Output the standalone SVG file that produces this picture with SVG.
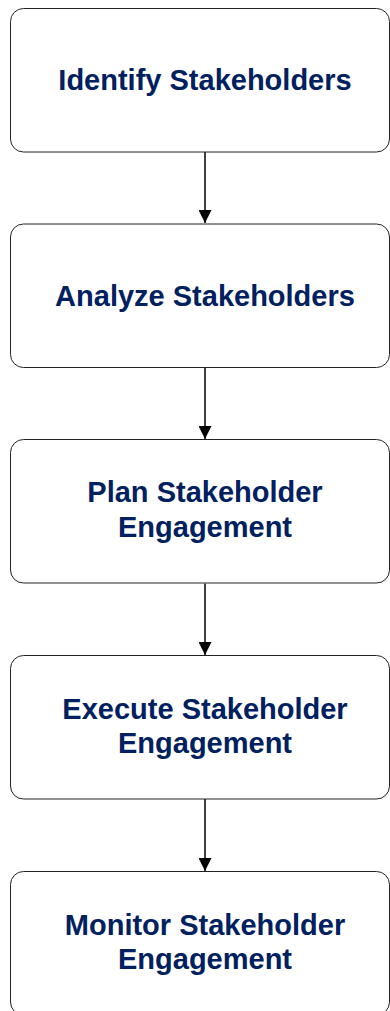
<svg xmlns="http://www.w3.org/2000/svg" width="390" height="1011" viewBox="0 0 390 1011">
<style>
.box{fill:#ffffff;stroke:#222222;stroke-width:1}
.lbl{font-family:"Liberation Sans",Arial,sans-serif;font-weight:bold;font-size:29px;fill:#002060;text-anchor:middle}
.conn{stroke:#000000;stroke-width:1.5;fill:none}
</style>
<defs>
<marker id="ah" markerUnits="userSpaceOnUse" markerWidth="13" markerHeight="13" viewBox="0 0 13 13" refX="13" refY="6.5" orient="auto">
<path d="M0,0 L13,6.5 L0,13 Z" fill="#000000"/>
</marker>
</defs>
<rect width="390" height="1011" fill="#ffffff"/>
<g id="connectors">
<line class="conn" x1="205" y1="152" x2="205" y2="223" marker-end="url(#ah)"/>
<line class="conn" x1="205" y1="368" x2="205" y2="439" marker-end="url(#ah)"/>
<line class="conn" x1="205" y1="583.5" x2="205" y2="655" marker-end="url(#ah)"/>
<line class="conn" x1="205" y1="799" x2="205" y2="871" marker-end="url(#ah)"/>
</g>
<g id="identify">
<rect class="box" x="10.5" y="8.5" width="379" height="143.5" rx="13"/>
<text class="lbl" x="205" y="90">Identify Stakeholders</text>
</g>
<g id="analyze">
<rect class="box" x="10.5" y="224" width="379" height="143.5" rx="13"/>
<text class="lbl" x="205" y="305.5">Analyze Stakeholders</text>
</g>
<g id="plan">
<rect class="box" x="10.5" y="439.5" width="379" height="143.5" rx="13"/>
<text class="lbl" x="205" y="502">Plan Stakeholder</text>
<text class="lbl" x="205" y="537">Engagement</text>
</g>
<g id="execute">
<rect class="box" x="10.5" y="655.5" width="379" height="143.5" rx="13"/>
<text class="lbl" x="205" y="718.5">Execute Stakeholder</text>
<text class="lbl" x="205" y="753">Engagement</text>
</g>
<g id="monitor">
<rect class="box" x="10.5" y="871.5" width="379" height="143.5" rx="13"/>
<text class="lbl" x="205" y="935">Monitor Stakeholder</text>
<text class="lbl" x="205" y="969">Engagement</text>
</g>
</svg>
